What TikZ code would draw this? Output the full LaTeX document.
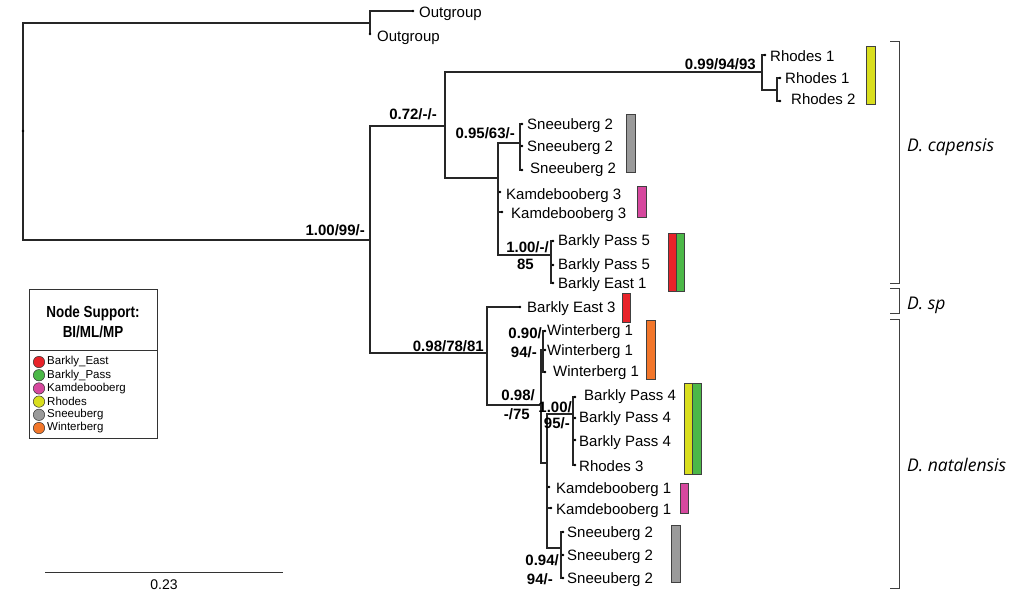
\documentclass[tikz,border=0pt]{standalone}
\usepackage{fontspec}
\setmainfont{Liberation Sans}
\newfontfamily\cladefont{Open Sans}
\definecolor{cEast}{HTML}{E8232A}
\definecolor{cPass}{HTML}{4CB848}
\definecolor{cKamde}{HTML}{D6489E}
\definecolor{cRhodes}{HTML}{D9DE1E}
\definecolor{cSneeu}{HTML}{9A9A9A}
\definecolor{cWinter}{HTML}{F2762A}
\tikzset{
  br/.style={draw=black!85, line width=1.1pt},
  leaf/.style={anchor=west, inner sep=0pt, text height=11pt, text depth=0pt, font=\fontsize{15}{18}\selectfont},
  supp/.style={anchor=base east, inner sep=0pt, font=\fontsize{15}{18}\selectfont\bfseries},
  bar/.style={draw=black!75, line width=0.7pt},
  bracket/.style={draw=black!75, line width=1pt},
  clade/.style={anchor=west, inner sep=0pt, font=\cladefont\itshape\fontsize{17.5}{20}\selectfont},
}
\begin{document}
\begin{tikzpicture}[x=1pt, y=-1pt]
  \useasboundingbox (0,0) rectangle (1024,597);

  % tree nodes
  \coordinate (r) at (23,131);
  \coordinate (og) at (370,23);
  \coordinate (o1) at (413,11);
  \coordinate (o2) at (370,34);
  \coordinate (in) at (370,240);
  \coordinate (cap) at (445,126);
  \coordinate (rho) at (762,72);
  \coordinate (rh1) at (765,55);
  \coordinate (rhs) at (777,90);
  \coordinate (rh2) at (780,78);
  \coordinate (rh3) at (780,101);
  \coordinate (cl) at (498,178);
  \coordinate (sn) at (520,143);
  \coordinate (sn1) at (522,124);
  \coordinate (sn2) at (522,146);
  \coordinate (sn3) at (522,170);
  \coordinate (kd1) at (500,192);
  \coordinate (kd2) at (502,212);
  \coordinate (bp) at (551,255);
  \coordinate (bp1) at (553,241);
  \coordinate (bp2) at (553,265);
  \coordinate (be1) at (553,283);
  \coordinate (nat) at (487,353);
  \coordinate (be3) at (520,307);
  \coordinate (na) at (541,405);
  \coordinate (wb) at (543,350);
  \coordinate (wb1) at (545,331);
  \coordinate (wb2) at (545,350);
  \coordinate (wb3) at (545,372);
  \coordinate (nb) at (547,463);
  \coordinate (bq) at (573,414);
  \coordinate (bq1) at (575,397);
  \coordinate (bq2) at (575,418);
  \coordinate (bq3) at (575,440);
  \coordinate (rh4) at (575,465);
  \coordinate (kd3) at (549,487);
  \coordinate (kd4) at (551,508);
  \coordinate (sb) at (561,548);
  \coordinate (sb1) at (563,532);
  \coordinate (sb2) at (563,555);
  \coordinate (sb3) at (563,578);

  % branches
  \foreach \p/\c in {r/og, og/o1, og/o2, r/in, in/cap, cap/rho, rho/rh1, rho/rhs,
      rhs/rh2, rhs/rh3, cap/cl, cl/sn, sn/sn1, sn/sn2, sn/sn3, cl/kd1, cl/kd2,
      cl/bp, bp/bp1, bp/bp2, bp/be1, in/nat, nat/be3, nat/na, na/wb, wb/wb1,
      wb/wb2, wb/wb3, na/nb, nb/bq, bq/bq1, bq/bq2, bq/bq3, bq/rh4, nb/kd3,
      nb/kd4, nb/sb, sb/sb1, sb/sb2, sb/sb3}
    \draw[br] (\p) |- (\c);

  \foreach \t in {r, o1, o2, rh1, rh2, rh3, sn1, sn2, sn3, kd1, kd2, bp1, bp2,
      be1, be3, wb1, wb2, wb3, bq1, bq2, bq3, rh4, kd3, kd4, sb1, sb2, sb3}
    \fill[black] (\t) circle (1.3);

  % tip labels
  \node[leaf] (lo1) at (419,12) {Outgroup};
  \node[leaf] (lo2) at (377,36) {Outgroup};
  \node[leaf] (lrh1) at (770,56) {Rhodes 1};
  \node[leaf] (lrh2) at (785,78) {Rhodes 1};
  \node[leaf] (lrh3) at (791,99) {Rhodes 2};
  \node[leaf] (lsn1) at (527,124) {Sneeuberg 2};
  \node[leaf] (lsn2) at (527,146) {Sneeuberg 2};
  \node[leaf] (lsn3) at (530,168) {Sneeuberg 2};
  \node[leaf] (lkd1) at (506,194) {Kamdebooberg 3};
  \node[leaf] (lkd2) at (511,213) {Kamdebooberg 3};
  \node[leaf] (lbp1) at (558,240) {Barkly Pass 5};
  \node[leaf] (lbp2) at (558,264) {Barkly Pass 5};
  \node[leaf] (lbe1) at (558,283) {Barkly East 1};
  \node[leaf] (lbe3) at (527,307) {Barkly East 3};
  \node[leaf] (lwb1) at (547,330) {Winterberg 1};
  \node[leaf] (lwb2) at (547,350) {Winterberg 1};
  \node[leaf] (lwb3) at (553,371) {Winterberg 1};
  \node[leaf] (lbq1) at (584,395) {Barkly Pass 4};
  \node[leaf] (lbq2) at (579,417) {Barkly Pass 4};
  \node[leaf] (lbq3) at (579,441) {Barkly Pass 4};
  \node[leaf] (lrh4) at (579,466) {Rhodes 3};
  \node[leaf] (lkd3) at (556,488) {Kamdebooberg 1};
  \node[leaf] (lkd4) at (556,509) {Kamdebooberg 1};
  \node[leaf] (lsb1) at (567,532) {Sneeuberg 2};
  \node[leaf] (lsb2) at (567,555) {Sneeuberg 2};
  \node[leaf] (lsb3) at (567,578) {Sneeuberg 2};

  % node support
  \node[supp] (s1) at (365,235) {1.00/99/-};
  \node[supp] (s2) at (437,119) {0.72/-/-};
  \node[supp] (s3) at (756,69) {0.99/94/93};
  \node[supp] (s4) at (515,138) {0.95/63/-};
  \node[supp] (s5a) at (549,252) {1.00/-/};
  \node[supp] (s5b) at (534,269) {85};
  \node[supp] (s6) at (484,351) {0.98/78/81};
  \node[supp] (s7a) at (542,338) {0.90/};
  \node[supp] (s7b) at (537,357) {94/-};
  \node[supp] (s8a) at (535,400) {0.98/};
  \node[supp] (s8b) at (530,419) {-/75};
  \node[supp] (s9a) at (572,412) {1.00/};
  \node[supp] (s9b) at (570,428) {95/-};
  \node[supp] (s10a) at (559,565) {0.94/};
  \node[supp] (s10b) at (553,584) {94/-};

  % locality bars
  \filldraw[bar, fill=cRhodes] (866,46) rectangle (875,104);
  \filldraw[bar, fill=cSneeu] (626,114) rectangle (635,172);
  \filldraw[bar, fill=cKamde] (637,186) rectangle (646,217);
  \filldraw[bar, fill=cEast] (668,233) rectangle (676,291);
  \filldraw[bar, fill=cPass] (676,233) rectangle (684,291);
  \filldraw[bar, fill=cEast] (622,293) rectangle (630,322);
  \filldraw[bar, fill=cWinter] (646,320) rectangle (655,379);
  \filldraw[bar, fill=cRhodes] (684,383) rectangle (692,474);
  \filldraw[bar, fill=cPass] (692,383) rectangle (701,474);
  \filldraw[bar, fill=cKamde] (680,483) rectangle (688,513);
  \filldraw[bar, fill=cSneeu] (671,525) rectangle (680,582);

  % species brackets
  \draw[bracket] (890,41) -- (899,41) -- (899,283) -- (890,283);
  \draw[bracket] (890,288) -- (899,288) -- (899,313) -- (890,313);
  \draw[bracket] (890,319) -- (899,319) -- (899,588) -- (890,588);
  \node[clade] (dcap) at (907,147) {D. capensis};
  \node[clade] (dsp) at (907,305) {D. sp};
  \node[clade] (dnat) at (907,465) {D. natalensis};

  % legend
  \draw[black!80, line width=0.8pt] (29,289) rectangle (157,438);
  \draw[black!80, line width=0.8pt] (29,350) -- (157,350);
  \node[align=center, font=\fontsize{16}{20}\selectfont\bfseries] (ltitle) at (93,322)
    {\scalebox{0.84}[1]{Node Support:}\\\scalebox{0.84}[1]{BI/ML/MP}};
  \foreach \c/\n [count=\i from 0] in {cEast/Barkly\_East, cPass/Barkly\_Pass,
      cKamde/Kamdebooberg, cRhodes/Rhodes, cSneeu/Sneeuberg, cWinter/Winterberg}
  {
    \filldraw[fill=\c, draw=black!80, line width=0.5pt] (39,362+13.2*\i) circle (5.7);
    \node[anchor=west, inner sep=0pt, font=\fontsize{11.5}{13}\selectfont] at (47,362+13.2*\i) {\n};
  }

  % scale bar
  \draw[black!80, line width=1pt] (45,572) -- (283,572);
  \node[font=\fontsize{14}{16}\selectfont] (scl) at (164,585) {0.23};
\end{tikzpicture}
\end{document}
